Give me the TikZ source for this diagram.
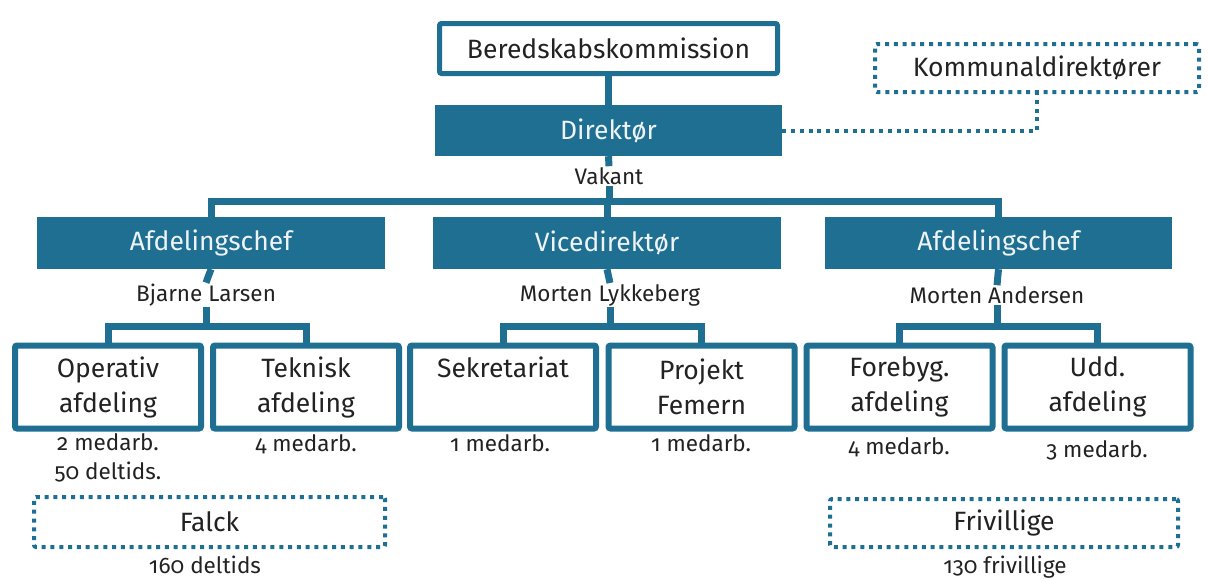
\documentclass[tikz,border=0pt]{standalone}
\usepackage{fontspec}
\setmainfont{Fira Sans}[Numbers=OldStyle]
\definecolor{teal}{HTML}{1F6F93}
\definecolor{ink}{HTML}{222222}
\definecolor{lighttxt}{HTML}{EEF3F6}
\begin{document}
\begin{tikzpicture}[x=1pt,y=-1pt,
  every node/.style={text=ink},
  bigtxt/.style={font=\fontsize{26.5}{35}\selectfont},
  smalltxt/.style={font=\fontsize{22.5}{29}\selectfont, inner sep=1pt, align=center},
  openbox/.style={draw=teal, line width=5pt, fill=white, rounded corners=2pt, bigtxt},
  filledbox/.style={fill=teal, draw=none, text=lighttxt, bigtxt},
  unitbox/.style={draw=teal, line width=6pt, rounded corners=2pt, bigtxt, align=center,
     minimum width=186pt, minimum height=83pt, inner sep=0pt},
  dotbox/.style={draw=teal, line width=4pt, dash pattern=on 4pt off 4.8pt, rounded corners=2pt, bigtxt},
  conn/.style={draw=teal, line width=7pt},
  dotconn/.style={draw=teal, line width=4pt, dash pattern=on 4pt off 4.8pt}
]
\useasboundingbox (0,0) rectangle (1208,579);

% top
\node[openbox, minimum width=338pt, minimum height=50pt] (bk) at (608.5,48.5) {Beredskabskommission};
\node[filledbox, minimum width=347pt, minimum height=51pt] (dir) at (608.5,130.5) {Direktør};
\node[dotbox, minimum width=324pt, minimum height=48pt] (kd) at (1037,68) {Kommunaldirektører};
\node[smalltxt] (vak) at (609,176) {Vakant};

% level 2
\coordinate (bar) at (0,201);
\node[filledbox, minimum width=348pt, minimum height=52pt] (afl) at (211,243) {Afdelingschef};
\node[filledbox, minimum width=348pt, minimum height=52pt] (vice) at (607,243) {Vicedirektør};
\node[filledbox, minimum width=347pt, minimum height=52pt] (afr) at (998.5,243) {Afdelingschef};

\node[smalltxt] (nl) at (206,295) {Bjarne Larsen};
\node[smalltxt] (nm) at (610,295) {Morten Lykkeberg};
\node[smalltxt] (nr) at (997,295) {Morten Andersen};

% level 3
\coordinate (sub) at (0,326);
\node[unitbox] (op) at (108,387) {Operativ\\afdeling};
\node[unitbox] (tk) at (306,387) {Teknisk\\afdeling};
\node[unitbox] (sk) at (503,387) {Sekretariat\\\phantom{afdeling}};
\node[unitbox] (pf) at (701.5,387) {Projekt\\Femern};
\node[unitbox] (fb) at (899.5,387) {Forebyg.\\afdeling};
\node[unitbox] (ud) at (1097.5,387) {Udd.\\afdeling};

\node[smalltxt, anchor=north] (opc) at (108,432) {2 medarb.\\50 deltids.};
\node[smalltxt, anchor=north] (tkc) at (306,433) {4 medarb.};
\node[smalltxt, anchor=north] (skc) at (500,433) {1 medarb.};
\node[smalltxt, anchor=north] (pfc) at (701,433) {1 medarb.};
\node[smalltxt, anchor=north] (fbc) at (899,436) {4 medarb.};
\node[smalltxt, anchor=north] (udc) at (1097,439) {3 medarb.};

% external
\node[dotbox, minimum width=351pt, minimum height=50pt] (fa) at (209.5,522) {Falck};
\node[smalltxt] (fac) at (205,565) {160 deltids};
\node[dotbox, minimum width=348pt, minimum height=48pt] (fr) at (1004,523) {Frivillige};
\node[smalltxt] (frc) at (1005,567) {130 frivillige};

% connectors
\draw[conn] (bk.south) -- (dir.north);
\draw[conn] (dir.south) -- (vak.north);
\draw[conn] (vak.south) -- (vak.south |- bar);
\draw[conn] (afl.north) -- (afl.north |- bar) -- (afr.north |- bar) -- (afr.north);
\draw[conn] (vice.north) -- (vice.north |- bar);
\draw[dotconn] (dir.east) -- (dir.east -| kd.south) -- (kd.south);

\draw[conn] (afl.south) -- (nl.north);
\draw[conn] (nl.south) -- (nl.south |- sub);
\draw[conn] (op.north) -- (op.north |- sub) -- (tk.north |- sub) -- (tk.north);

\draw[conn] (vice.south) -- (nm.north);
\draw[conn] (nm.south) -- (nm.south |- sub);
\draw[conn] (sk.north) -- (sk.north |- sub) -- (pf.north |- sub) -- (pf.north);

\draw[conn] (afr.south) -- (nr.north);
\draw[conn] (nr.south) -- (nr.south |- sub);
\draw[conn] (fb.north) -- (fb.north |- sub) -- (ud.north |- sub) -- (ud.north);
\end{tikzpicture}
\end{document}
